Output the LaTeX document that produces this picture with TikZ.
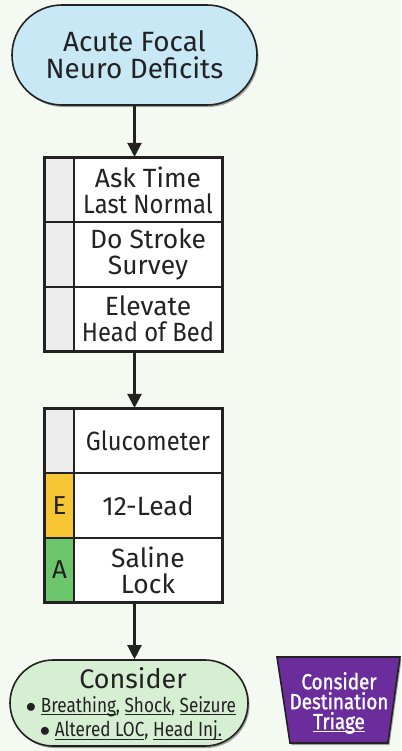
\documentclass[tikz,border=0pt]{standalone}
\usepackage{fontspec}
\setmainfont{Fira Sans}
\newfontfamily\condA[FakeStretch=0.9]{Fira Sans}
\newfontfamily\condB[FakeStretch=0.84]{Fira Sans}
\newfontfamily\purpfont[FakeStretch=0.86,FakeBold=1.2]{Fira Sans}
\newcommand\myul[1]{\leavevmode\setbox0\hbox{#1}\rlap{\rule[-3.2bp]{\wd0}{1bp}}\box0}
\usetikzlibrary{shadows,arrows.meta}
\definecolor{bgc}{HTML}{F4FAF2}
\definecolor{bluef}{HTML}{C9E8F6}
\definecolor{greenf}{HTML}{D6EFD2}
\definecolor{tagg}{HTML}{EDEDED}
\definecolor{tagy}{HTML}{F6C634}
\definecolor{taga}{HTML}{6CC66B}
\definecolor{purp}{HTML}{6B2D9C}
\definecolor{ink}{HTML}{222222}
\tikzset{
  shad/.style={drop shadow={shadow xshift=1.5bp,shadow yshift=-2bp,fill=black,opacity=0.35}},
  pill/.style={draw=ink,line width=1.6bp,rounded corners=#1,shad,align=center,inner sep=0pt,text=ink},
  tag/.style={draw=ink,line width=1.6bp,minimum width=29bp,minimum height=64.5bp,inner sep=0pt,font=\fontsize{26}{26}\selectfont,text=ink},
  txt/.style={draw=ink,line width=1.6bp,fill=white,minimum width=148bp,minimum height=64.5bp,inner sep=0pt,align=center,text=ink,font=\fontsize{26.5}{26}\selectfont},
  arr/.style={draw=ink,line width=2.2bp,-{Triangle[length=14bp,width=14bp]}},
  boxline/.style={draw=ink,line width=1.6bp},
  bul/.style={anchor=base,text=ink,font=\condB\fontsize{20.5}{21}\selectfont,inner sep=0pt}
}
\begin{document}
\begin{tikzpicture}[x=1bp,y=-1bp]
\useasboundingbox[fill=bgc] (0,0) rectangle (401,751);
% top pill
\node[pill=50bp,fill=bluef,minimum width=245bp,minimum height=100bp,font=\fontsize{28}{27}\selectfont] (start) at (134.5,55) {Acute Focal\\Neuro Deficits};
% box 1
\fill[black,opacity=0.35] (46.5,160) rectangle (223.5,353);
\node[tag,fill=tagg] (t1) at (59.5,190) {};
\node[txt] (s1) at (148,190) {Ask Time\\{\condA Last Normal}};
\node[tag,fill=tagg] (t2) at (59.5,254.5) {};
\node[txt] (s2) at (148,254.5) {Do Stroke\\Survey};
\node[tag,fill=tagg] (t3) at (59.5,319) {};
\node[txt] (s3) at (148,319) {Elevate\\{\condA Head of Bed}};
\draw[boxline] (t1.north west) rectangle (s3.south east);
% box 2
\fill[black,opacity=0.35] (46.5,411) rectangle (223.5,604);
\node[tag,fill=tagg] (t4) at (59.5,441) {};
\node[txt] (s4) at (148,441) {\condA Glucometer};
\node[tag,fill=tagy] (t5) at (59.5,505.5) {E};
\node[txt] (s5) at (148,505.5) {12-Lead};
\node[tag,fill=taga] (t6) at (59.5,570) {A};
\node[txt] (s6) at (148,570) {Saline\\Lock};
\draw[boxline] (t4.north west) rectangle (s6.south east);
% bottom pill
\node[pill=43bp,fill=greenf,minimum width=238bp,minimum height=86bp] (cons) at (129,703) {};
\node[anchor=base,text=ink,font=\fontsize{27}{27}\selectfont,inner sep=0pt] (c1) at (133,688) {Consider};
\node[bul] (c2) at (131,712) {$\bullet$ \myul{Breathing}, \myul{Shock}, \myul{Seizure}};
\node[bul] (c3) at (131,736.5) {$\bullet$ \myul{Altered LOC}, \myul{Head Inj.}};
% trapezoid
\coordinate (p1) at (277,657);
\coordinate (p2) at (400,657);
\coordinate (p3) at (388,743);
\coordinate (p4) at (290,743);
\fill[black,opacity=0.35] ([shift={(1.5,2)}]p1) -- ([shift={(1.5,2)}]p2) -- ([shift={(1.5,2)}]p3) -- ([shift={(1.5,2)}]p4) -- cycle;
\draw[ink,line width=1.6bp,fill=purp] (p1) -- (p2) -- (p3) -- (p4) -- cycle;
\node[text=white,align=center,font=\purpfont\fontsize{22}{20}\selectfont,inner sep=0pt] (dest) at (339,703) {Consider\\Destination\\\myul{Triage}};
% arrows
\draw[arr] (start.south) -- (start.south |- s1.north);
\draw[arr] (s3.south -| start.south) -- (start.south |- s4.north);
\draw[arr] (s6.south -| start.south) -- (start.south |- cons.north);
\end{tikzpicture}
\end{document}
